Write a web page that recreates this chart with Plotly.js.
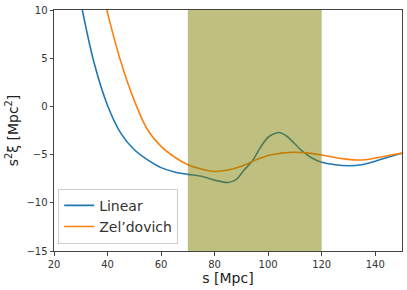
<!DOCTYPE html>
<html>
<head>
<meta charset="utf-8">
<script src="https://cdn.plot.ly/plotly-3.0.1.min.js"></script>
<style>html,body{margin:0;padding:0;background:#fff;}#chart{width:407px;height:290px;}</style>
</head>
<body>
<div id="chart"></div>
<script>
// Data
const linearS = [26, 30, 35, 40, 45, 50, 55, 60, 65, 70, 75, 80, 85, 88, 91, 94, 97, 100, 104, 107, 110, 113, 116, 120, 125, 130, 135, 140, 145, 150];
const linearV = [17, 10.8, 4.5, 0.1, -2.8, -4.5, -5.55, -6.35, -6.8, -7.05, -7.25, -7.65, -7.9, -7.6, -6.6, -5.7, -4.3, -3.2, -2.7, -3.1, -3.9, -4.7, -5.3, -5.8, -6.05, -6.15, -6.05, -5.7, -5.25, -4.85];
const zeldS = [34, 36, 40, 45, 50, 55, 60, 65, 70, 75, 80, 85, 90, 95, 100, 105, 110, 115, 120, 125, 130, 133, 137, 140, 145, 150];
const zeldV = [17, 14.5, 9.7, 4.6, 0.6, -2.45, -4.15, -5.25, -6.05, -6.5, -6.75, -6.6, -6.2, -5.6, -5.1, -4.85, -4.75, -4.85, -5.05, -5.3, -5.5, -5.56, -5.5, -5.35, -5.1, -4.85];
const seriesNames = ["Linear", "Zel\u2019dovich"];
const bandRange = [70, 120];
const xTicks = [20, 40, 60, 80, 100, 120, 140];
const yTicks = [-15, -10, -5, 0, 5, 10];

const font = "DejaVu Sans, Liberation Sans, sans-serif";
const traces = [
  {x: linearS, y: linearV, name: seriesNames[0], mode: "lines", line: {color: "#1f77b4", width: 1.6, shape: "spline", smoothing: 0.8}},
  {x: zeldS, y: zeldV, name: seriesNames[1], mode: "lines", line: {color: "#ff7f0e", width: 1.6, shape: "spline", smoothing: 0.8}}
];
const axisCommon = {
  showline: true, mirror: true, linecolor: "#444", linewidth: 1,
  ticks: "outside", ticklen: 3.5, tickwidth: 1, tickcolor: "#444",
  showgrid: false, zeroline: false,
  tickfont: {family: font, size: 10, color: "#333"}
};
const layout = {
  width: 407, height: 290,
  margin: {l: 54, r: 5, t: 10, b: 39},
  paper_bgcolor: "#fff", plot_bgcolor: "#fff",
  showlegend: true,
  legend: {x: 0.012, y: 0.03, xanchor: "left", yanchor: "bottom",
    bgcolor: "rgba(255,255,255,0.85)", bordercolor: "#ccc", borderwidth: 1,
    font: {family: font, size: 14, color: "#333"}, itemwidth: 30, tracegroupgap: 0},
  xaxis: Object.assign({}, axisCommon, {range: [20, 150], tickvals: xTicks,
    title: {text: "s [Mpc]", font: {family: font, size: 14, color: "#222"}, standoff: 4}}),
  yaxis: Object.assign({}, axisCommon, {range: [-15, 10], tickvals: yTicks,
    title: {text: "s<sup>2</sup>\u03be [Mpc<sup>2</sup>]", font: {family: font, size: 14, color: "#222"}, standoff: 4}}),
  shapes: [{type: "rect", xref: "x", yref: "paper", x0: bandRange[0], x1: bandRange[1], y0: 0, y1: 1,
    fillcolor: "#808000", opacity: 0.5, line: {width: 0}, layer: "above"}]
};
Plotly.newPlot("chart", traces, layout, {displayModeBar: false, staticPlot: true});
</script>
</body>
</html>
